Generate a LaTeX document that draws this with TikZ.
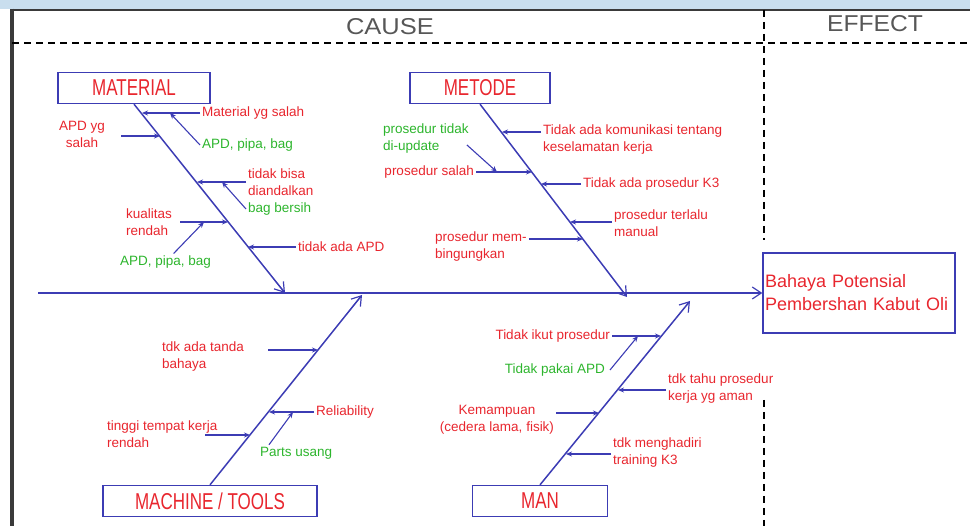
\documentclass[tikz,border=0pt]{standalone}
\usepackage{fontspec}
\setmainfont{Liberation Sans}
\usetikzlibrary{arrows.meta}
\begin{document}
\begin{tikzpicture}[x=1pt, y=-1pt,
  bone/.style={draw=bonecol, line width=1.5pt, -{Straight Barb[length=9pt,width=12pt,line width=1.2pt]}},
  twig/.style={draw=bonecol, line width=1.1pt, -{Stealth[length=6pt,width=5pt]}},
  causetxt/.style={text=redtxt, font=\fontsize{13.5}{17}\selectfont, inner sep=2pt, align=left},
  subtxt/.style={causetxt, text=greentxt},
  catbox/.style={draw=bonecol, line width=1.3pt, text=redtxt, font=\fontsize{17}{17}\selectfont, minimum height=31pt},
  headtxt/.style={text=framecol!85, font=\fontsize{17}{17}\selectfont},
  sep/.style={draw=black, line width=1.4pt, dash pattern=on 7pt off 5pt}]
\definecolor{bonecol}{HTML}{3C3CB4}
\definecolor{redtxt}{HTML}{E8262E}
\definecolor{greentxt}{HTML}{2DB52D}
\definecolor{framecol}{HTML}{3A3A3A}
\definecolor{markcol}{HTML}{C9DEEE}
\useasboundingbox (0,0) rectangle (970,526);
\fill[markcol] (0,0) rectangle (970,9);
\draw[framecol, line width=2.5pt] (12,10) -- (970,10);
\draw[framecol, line width=4pt] (12,8.75) -- (12,526);
\draw[sep] (12,43) -- (970,43);
\draw[sep] (764,10) -- (764,240);
\draw[sep] (764,400) -- (764,526);
\node[headtxt] (cause) at (390,27) {\scalebox{1.5}[1.35]{CAUSE}};
\node[headtxt] (effecthd) at (875,24) {\scalebox{1.45}[1.35]{EFFECT}};
\node[draw=bonecol, line width=1.3pt, minimum width=192pt, minimum height=80pt, text width=188pt, inner xsep=2pt, align=left, text=redtxt, font=\fontsize{18}{23}\selectfont] (effect) at (859,293) {Bahaya Potensial\\Pembershan Kabut Oli};
\coordinate (tail) at (38,293);
\draw[bone] (tail) -- (effect.west);
\node[catbox, minimum width=152pt] (material) at (134,88) {\scalebox{1}[1.35]{MATERIAL}};
\coordinate (matend) at (285,293);
\draw[bone] (material.south) -- (matend);
\coordinate (mat1) at (142,113);
\coordinate (mat1b) at (170,113);
\coordinate (mat2) at (160,136);
\coordinate (mat3) at (197,182);
\coordinate (mat3b) at (222,182);
\coordinate (mat4) at (228,222);
\coordinate (mat4b) at (204,222);
\coordinate (mat5) at (248,247);
\node[causetxt, anchor=west] (matsalah) at (200,113) {Material yg salah};
\draw[twig] (matsalah.west) -- (mat1);
\node[subtxt, anchor=west] (apdpipa) at (200,145) {APD, pipa, bag};
\draw[twig] (apdpipa.west) -- (mat1b);
\node[causetxt, align=center] (apdsalah) at (82,134) {APD yg\\salah};
\draw[twig, shorten <=14pt] (apdsalah.east |- mat2) -- (mat2);
\node[causetxt, anchor=west] (tdkbisa) at (246,182) {tidak bisa\\diandalkan};
\draw[twig] (tdkbisa.west) -- (mat3);
\node[subtxt, anchor=west] (bagbersih) at (246,209) {bag bersih};
\draw[twig] (bagbersih.west) -- (mat3b);
\node[causetxt, anchor=west] (kualitas) at (124,222) {kualitas\\rendah};
\draw[twig, shorten <=6pt] (kualitas.east) -- (mat4);
\node[subtxt, anchor=west] (apdbag) at (118,262) {APD, pipa, bag};
\draw[twig] ([xshift=8pt]apdbag.north) -- (mat4b);
\node[causetxt, anchor=west] (tdkapd) at (296,247) {tidak ada APD};
\draw[twig] (tdkapd.west) -- (mat5);
\node[catbox, minimum width=140pt] (metode) at (480,88) {\scalebox{1}[1.35]{METODE}};
\coordinate (metend) at (627,297);
\draw[bone] (metode.south) -- (metend);
\coordinate (met1) at (502,132);
\coordinate (met2) at (532,172);
\coordinate (met2b) at (497,172);
\coordinate (met3) at (541,184);
\coordinate (met4) at (570,222);
\coordinate (met5) at (583,239);
\node[causetxt, anchor=west] (komunikasi) at (541,140) {Tidak ada komunikasi tentang\\keselamatan kerja};
\draw[twig] (komunikasi.west |- met1) -- (met1);
\node[subtxt, anchor=west] (tdkupdate) at (381,139) {prosedur tidak\\di-update};
\draw[twig] ([xshift=-4pt,yshift=-6pt]tdkupdate.east) -- (met2b);
\node[causetxt, anchor=east] (prossalah) at (476,172) {prosedur salah};
\draw[twig] (prossalah.east) -- (met2);
\node[causetxt, anchor=west] (tdkk3) at (581,184) {Tidak ada prosedur K3};
\draw[twig] (tdkk3.west) -- (met3);
\node[causetxt, anchor=west] (manual) at (612,223) {prosedur terlalu\\manual};
\draw[twig] (manual.west |- met4) -- (met4);
\node[causetxt, anchor=west] (bingung) at (433,247) {prosedur mem-\\bingungkan};
\draw[twig] (bingung.east |- met5) -- (met5);
\node[catbox, minimum width=214pt] (machine) at (210,501) {\scalebox{1}[1.35]{MACHINE / TOOLS}};
\coordinate (macend) at (362,295);
\draw[bone] (machine.north) -- (macend);
\coordinate (mac1) at (318,350);
\coordinate (mac2) at (269,412);
\coordinate (mac2b) at (293,412);
\coordinate (mac3) at (250,435);
\coordinate (mac3s) at (205,435);
\node[causetxt, anchor=west] (tanda) at (160,357) {tdk ada tanda\\bahaya};
\draw[twig, shorten <=22pt] (tanda.east |- mac1) -- (mac1);
\node[causetxt, anchor=west] (reliab) at (314,412) {Reliability};
\draw[twig] (reliab.west) -- (mac2);
\node[subtxt, anchor=west] (parts) at (258,453) {Parts usang};
\draw[twig] ([xshift=11pt]parts.north west) -- (mac2b);
\node[causetxt, anchor=west] (tinggi) at (105,434) {tinggi tempat kerja\\rendah};
\draw[twig] (mac3s) -- (mac3);
\node[catbox, minimum width=135pt] (man) at (540,501) {\scalebox{1}[1.35]{MAN}};
\coordinate (manend) at (690,301);
\draw[bone] (man.north) -- (manend);
\coordinate (man1) at (661,336);
\coordinate (man1b) at (638,336);
\coordinate (man2) at (618,390);
\coordinate (man3) at (599,413);
\coordinate (man4) at (566,454);
\node[causetxt, anchor=east] (ikut) at (612,336) {Tidak ikut prosedur};
\draw[twig] (ikut.east) -- (man1);
\node[subtxt, anchor=east] (pakai) at (607,370) {Tidak pakai APD};
\draw[twig] ([xshift=3pt]pakai.east) -- (man1b);
\node[causetxt, anchor=west] (tahu) at (666,389) {tdk tahu prosedur\\kerja yg aman};
\draw[twig] (tahu.west |- man2) -- (man2);
\node[causetxt, align=center] (mampu) at (497,420) {Kemampuan\\(cedera lama, fisik)};
\draw[twig] (mampu.east |- man3) -- (man3);
\node[causetxt, anchor=west] (training) at (611,453) {tdk menghadiri\\training K3};
\draw[twig] (training.west |- man4) -- (man4);
\end{tikzpicture}
\end{document}
